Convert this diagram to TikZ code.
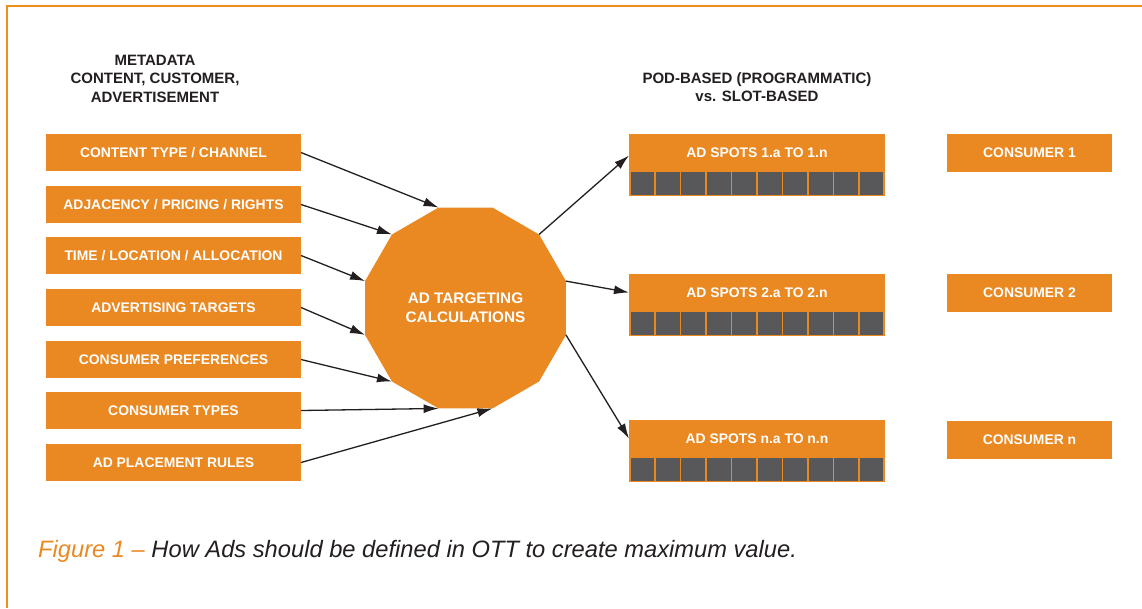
\documentclass[tikz,border=0pt]{standalone}
\usepackage{fontspec}
\setmainfont{Liberation Sans}
\usetikzlibrary{shapes.geometric,arrows.meta}
\definecolor{org}{HTML}{EA8822}
\definecolor{frameorg}{HTML}{EF8E1C}
\definecolor{cellgray}{HTML}{58585A}
\definecolor{dark}{HTML}{231F20}
\begin{document}
\begin{tikzpicture}[x=1pt,y=-1pt,
  inbox/.style={fill=org, text=white, font=\fontsize{13.9}{16}\selectfont\bfseries,
    minimum width=255pt, minimum height=37pt, inner sep=0pt, outer sep=0pt, anchor=north west},
  spotbox/.style={fill=org, text=white, font=\fontsize{13.9}{16}\selectfont\bfseries,
    minimum width=256pt, minimum height=37pt, inner sep=0pt, outer sep=0pt, anchor=north west},
  consbox/.style={fill=org, text=white, font=\fontsize{13.9}{16}\selectfont\bfseries,
    minimum width=165pt, minimum height=38pt, inner sep=0pt, outer sep=0pt, anchor=north west},
  headtext/.style={align=center, text=dark, font=\fontsize{15}{18.5}\selectfont\bfseries},
  arr/.style={draw=dark, line width=1.3pt, -{Latex[length=15pt,width=9pt]}}
]
\useasboundingbox (0,0) rectangle (1142,608);
\fill[white] (0,0) rectangle (1142,608);
% frame
\draw[frameorg, line width=2.5pt] (7,608) -- (7,6) -- (1142,6);

% headings
\node[headtext] (meta) at (155,78.5) {METADATA\\CONTENT, CUSTOMER,\\ADVERTISEMENT};
\node[headtext] (pod) at (757,87) {POD-BASED (PROGRAMMATIC)\\vs. SLOT-BASED};

% input boxes
\node[inbox] (i1) at (46,134) {CONTENT TYPE / CHANNEL};
\node[inbox] (i2) at (46,186) {ADJACENCY / PRICING / RIGHTS};
\node[inbox] (i3) at (46,237) {TIME / LOCATION / ALLOCATION};
\node[inbox] (i4) at (46,289) {ADVERTISING TARGETS};
\node[inbox] (i5) at (46,341) {CONSUMER PREFERENCES};
\node[inbox] (i6) at (46,392) {CONSUMER TYPES};
\node[inbox] (i7) at (46,444) {AD PLACEMENT RULES};

% central dodecagon
\node[regular polygon, regular polygon sides=12, minimum size=208pt, inner sep=0pt, outer sep=0pt,
  fill=org, text=white, align=center, font=\fontsize{15.3}{19}\selectfont\bfseries]
  (dod) at (465.5,308) {AD TARGETING\\CALCULATIONS};

% ad spot boxes
\foreach \n/\t/\lab in {1/134/{AD SPOTS 1.a TO 1.n}, 2/274/{AD SPOTS 2.a TO 2.n}, 3/420/{AD SPOTS n.a TO n.n}}{
  \node[spotbox] (spot\n) at (629,\t) {\lab};
  \fill[org] (629,\t+37) rectangle (885,\t+62);
  \foreach \i in {0,...,9}{
    \fill[cellgray] ({629+1.6+\i*25.44},{\t+38}) rectangle ({629+(\i+1)*25.44},{\t+60.5});
  }
}

% consumer boxes
\node[consbox] (c1) at (947,134) {CONSUMER 1};
\node[consbox] (c2) at (947,274) {CONSUMER 2};
\node[consbox] (c3) at (947,421) {CONSUMER n};

% connectors in
\draw[arr] (i1.east) -- (dod.105);
\draw[arr] (i2.east) -- (dod.135);
\draw[arr] (i3.east) -- (dod.165);
\draw[arr] (i4.east) -- (dod.195);
\draw[arr] (i5.east) -- (dod.225);
\draw[arr] (i6.east) -- (dod.255);
\draw[arr] (i7.east) -- (dod.285);

% connectors out
\draw[arr] (dod.45) -- ([yshift=-3pt]spot1.west);
\draw[arr] (dod.15) -- (spot2.west);
\draw[arr] (dod.-15) -- (spot3.west);

% caption
\node[anchor=base west, inner sep=0pt, font=\fontsize{23.7}{28}\selectfont\itshape] (cap) at (38,557)
  {\textcolor{org}{Figure 1 –} \textcolor{dark}{How Ads should be defined in OTT to create maximum value.}};
\end{tikzpicture}
\end{document}
